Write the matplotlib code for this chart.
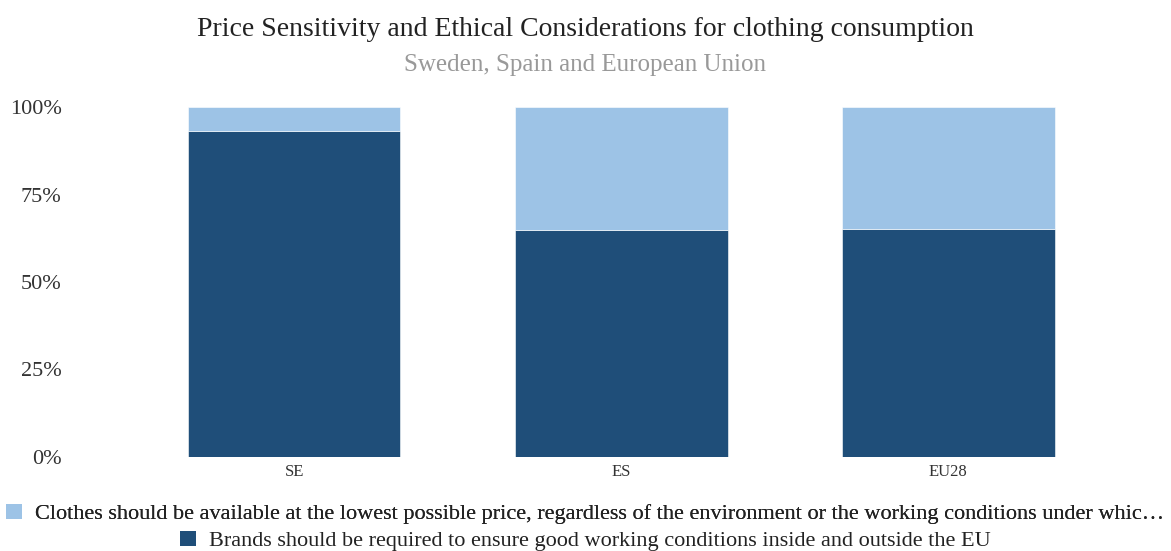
import matplotlib
matplotlib.use("Agg")
import matplotlib.pyplot as plt
from matplotlib.patches import Patch
from matplotlib.ticker import FuncFormatter

plt.rcParams['font.family'] = ['Liberation Serif', 'DejaVu Serif']

categories = ["SE", "ES", "EU28"]
brands_required = [93.1, 64.9, 65.1]
lowest_price = [6.9, 35.1, 34.9]

series_labels = [
    "Clothes should be available at the lowest possible price, regardless of the environment or the working conditions under whic\u2026",
    "Brands should be required to ensure good working conditions inside and outside the EU",
]
light = "#9DC3E6"
dark = "#1F4E79"

W, H = 1171, 551
fig = plt.figure(figsize=(W / 100, H / 100), dpi=100)
ax = fig.add_axes([70 / W, 94 / H, 1090 / W, 350 / H])

x = list(range(len(categories)))
ax.bar(x, brands_required, width=0.65, color=dark, edgecolor="white", linewidth=0.4)
ax.bar(x, lowest_price, width=0.65, bottom=brands_required, color=light,
       edgecolor="white", linewidth=0.4)

ax.set_xlim(-0.685, 2.647)
ax.set_ylim(0, 100)
ax.set_yticks([0, 25, 50, 75, 100])
ax.yaxis.set_major_formatter(FuncFormatter(lambda v, p: f"{v:.0f}%"))
ax.set_xticks(x)
ax.set_xticklabels(categories)
ax.tick_params(axis="y", length=0, labelsize=16, colors="#333333", pad=6)
ax.tick_params(axis="x", length=0, labelsize=12, colors="#333333", pad=5)
for s in ax.spines.values():
    s.set_visible(False)

fig.text(0.5, 1 - 29 / H, "Price Sensitivity and Ethical Considerations for clothing consumption",
         ha="center", va="center", fontsize=20, color="#222222")
fig.text(0.5, 1 - 65 / H, "Sweden, Spain and European Union",
         ha="center", va="center", fontsize=18, color="#999999")

leg_kw = dict(loc="center", frameon=False, fontsize=16, handlelength=0.7,
              handleheight=0.7, handletextpad=0.6, borderpad=0, labelcolor="#222222")
leg1 = fig.legend(handles=[Patch(facecolor=light)], labels=[series_labels[0]],
                  bbox_to_anchor=(0.5, 1 - 514 / H), **leg_kw)
fig.add_artist(leg1)
fig.legend(handles=[Patch(facecolor=dark)], labels=[series_labels[1]],
           bbox_to_anchor=(0.5, 1 - 541 / H), **leg_kw)

fig.savefig("out.png", dpi=100)
